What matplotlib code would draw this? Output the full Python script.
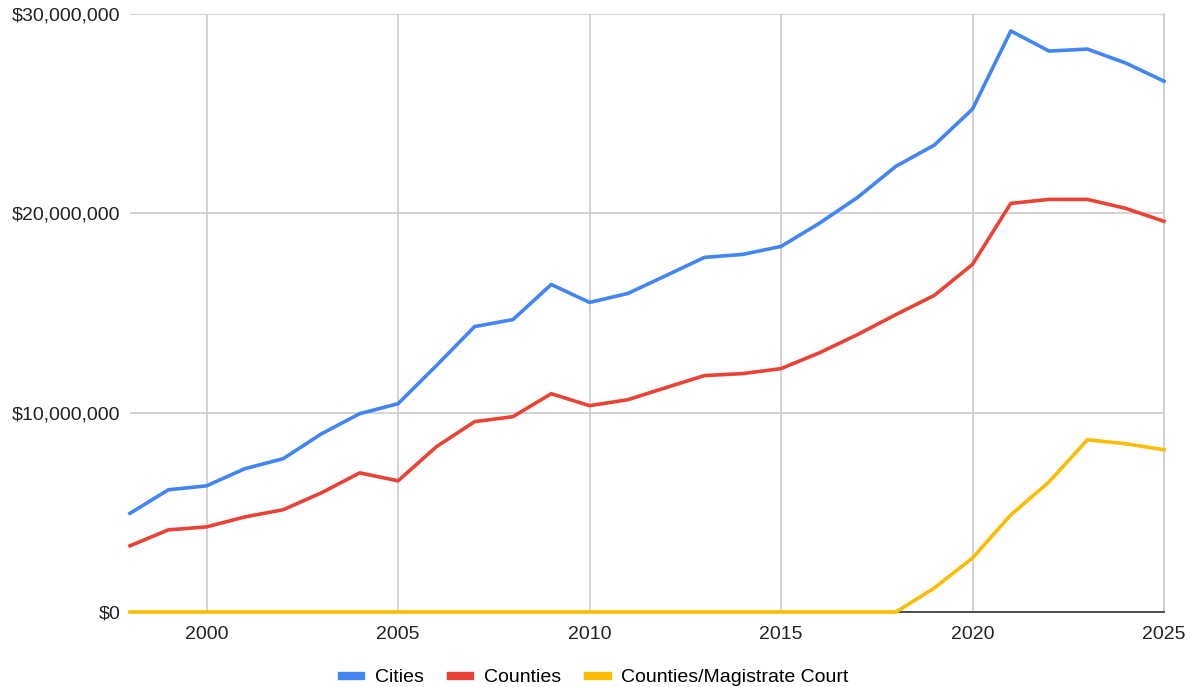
import matplotlib
matplotlib.use('Agg')
from matplotlib import pyplot as plt
from matplotlib.ticker import FuncFormatter

# Dados
anos = list(range(1998, 2026))
cidades = [4.95e6, 6.13e6, 6.33e6, 7.19e6, 7.69e6, 8.94e6, 9.95e6, 10.45e6,
           12.36e6, 14.32e6, 14.67e6, 16.43e6, 15.53e6, 15.98e6, 16.88e6, 17.79e6,
           17.94e6, 18.34e6, 19.50e6, 20.80e6, 22.36e6, 23.42e6, 25.23e6, 29.15e6,
           28.14e6, 28.24e6, 27.54e6, 26.63e6]
condados = [3.32e6, 4.12e6, 4.27e6, 4.77e6, 5.13e6, 5.98e6, 6.98e6, 6.58e6,
            8.29e6, 9.55e6, 9.80e6, 10.95e6, 10.35e6, 10.65e6, 11.26e6, 11.86e6,
            11.96e6, 12.21e6, 13.00e6, 13.92e6, 14.92e6, 15.88e6, 17.44e6, 20.50e6,
            20.70e6, 20.70e6, 20.25e6, 19.60e6]
magistrado = [0]*(len(anos) - 7) + [1.2e6, 2.71e6, 4.87e6, 6.53e6, 8.64e6, 8.44e6, 8.14e6]
series = ['Cities', 'Counties', 'Counties/Magistrate Court']
cores = ['#4285f4', '#ea4335', '#fbbc04']

plt.rcParams['font.family'] = ['Liberation Sans', 'DejaVu Sans']

fig = plt.figure(figsize=(11.9, 6.87), dpi=100)
ax = fig.add_axes([130/1190, 1 - 612/687, (1164-130)/1190, (612-14)/687])

for valores, nome, cor in zip([cidades, condados, magistrado], series, cores):
    ax.plot(anos, valores, color=cor, linewidth=2.6, label=nome,
            solid_joinstyle='round', clip_on=False, zorder=3)

ax.set_xlim(1998, 2025)
ax.set_ylim(0, 30e6)
ax.set_xticks(range(2000, 2026, 5))
ax.set_yticks([0, 10e6, 20e6, 30e6])
ax.yaxis.set_major_formatter(FuncFormatter(lambda v, p: f'${v:,.0f}'))
ax.grid(True, color='#cccccc', linewidth=1.2)
ax.set_axisbelow(True)

for lado in ['left', 'top']:
    ax.spines[lado].set_visible(False)
ax.spines['right'].set_color('#cccccc')
ax.spines['right'].set_linewidth(1.2)
ax.spines['bottom'].set_color('#333333')
ax.spines['bottom'].set_linewidth(1.2)
ax.tick_params(length=0, labelsize=14, colors='#222222')
ax.tick_params(axis='x', pad=10)
ax.tick_params(axis='y', pad=7)

# Legenda centrada na figura
fig.legend(loc='center', bbox_to_anchor=(0.5, 1 - 678/687), ncol=3, frameon=False,
           fontsize=14, handlelength=1.0, handleheight=0.5, columnspacing=1.4,
           handletextpad=0.7)
for linha in fig.legends[0].get_lines():
    linha.set_linewidth(6)

fig.savefig('out.png', dpi=100)
